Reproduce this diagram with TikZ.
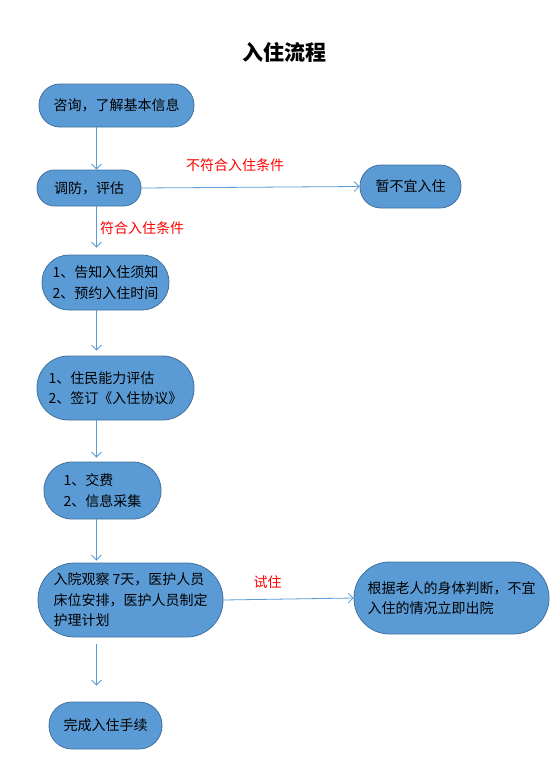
\documentclass[tikz,border=0pt]{standalone}
\usepackage{fontspec}
\newfontfamily\cjk{Noto Sans CJK SC}
\usetikzlibrary{arrows.meta}
\definecolor{boxblue}{HTML}{5B9BD5}
\definecolor{boxline}{HTML}{41719C}
\definecolor{arrowblue}{HTML}{5B9BD5}
\tikzset{>={Straight Barb[length=5pt,width=10pt]}}
\tikzset{
  stepbox/.style 2 args = {
    draw=boxline, fill=boxblue, line width=0.8pt,
    font=\cjk\fontsize{14}{20.5}\selectfont, align=left,
    minimum width=#1, minimum height=#2, rounded corners={#2/2-0.5pt}
  },
  flow/.style = {->, draw=arrowblue, line width=0.8pt},
  cond/.style = {text=red, font=\cjk\fontsize{14}{16}\selectfont}
}

\begin{document}
\begin{tikzpicture}[x=1pt,y=-1pt]
  \useasboundingbox (0,0) rectangle (551,782);
  \node[font=\cjk\bfseries\fontsize{21}{24}\selectfont] (title) at (284,52) {入住流程};
  \coordinate (spine) at (96.5,0);
  \node[stepbox={155pt}{43pt}] (consult) at (116.5,105.5) {咨询，了解基本信息};
  \node[stepbox={104pt}{36pt}] (assess) at (89,188) {调防，评估};
  \node[stepbox={101pt}{43pt}] (wait) at (410.5,186.5) {暂不宜入住};
  \node[stepbox={127pt}{55pt}] (notice) at (105.5,282.5) {1、告知入住须知\\2、预约入住时间};
  \node[stepbox={157pt}{64pt}] (sign) at (115.5,388) {1、住民能力评估\\2、签订《入住协议》};
  \node[stepbox={117pt}{57pt}] (pay) at (102.5,490.5) {1、交费\\2、信息采集};
  \node[stepbox={185pt}{74pt}] (observe) at (130.5,600) {入院观察 7天，医护人员\\床位安排，医护人员制定\\护理计划};
  \node[stepbox={195pt}{72pt}] (leave) at (451.5,598) {根据老人的身体判断，不宜\\入住的情况立即出院};
  \node[stepbox={113pt}{47pt}] (done) at (105.5,725.5) {完成入住手续};
  \draw[flow] (consult.south -| spine) -- (assess.north -| spine);
  \draw[flow] (assess.east) -- (wait.west) node[cond, above=12pt, pos=0.43] {不符合入住条件};
  \draw[flow, shorten >=7pt] (assess.south -| spine) -- (notice.north -| spine) node[cond, right, pos=0.45] {符合入住条件};
  \draw[flow, shorten >=5pt] (notice.south -| spine) -- (sign.north -| spine);
  \draw[flow, shorten >=4pt] (sign.south -| spine) -- (pay.north -| spine);
  \draw[flow, shorten >=2pt] (pay.south -| spine) -- (observe.north -| spine);
  \draw[flow] (observe.east) -- (leave.west) node[cond, above=7.5pt, pos=0.34] {试住};
  \draw[flow, shorten <=7pt, shorten >=16pt] (observe.south -| spine) -- (done.north -| spine);
\end{tikzpicture}
\end{document}
